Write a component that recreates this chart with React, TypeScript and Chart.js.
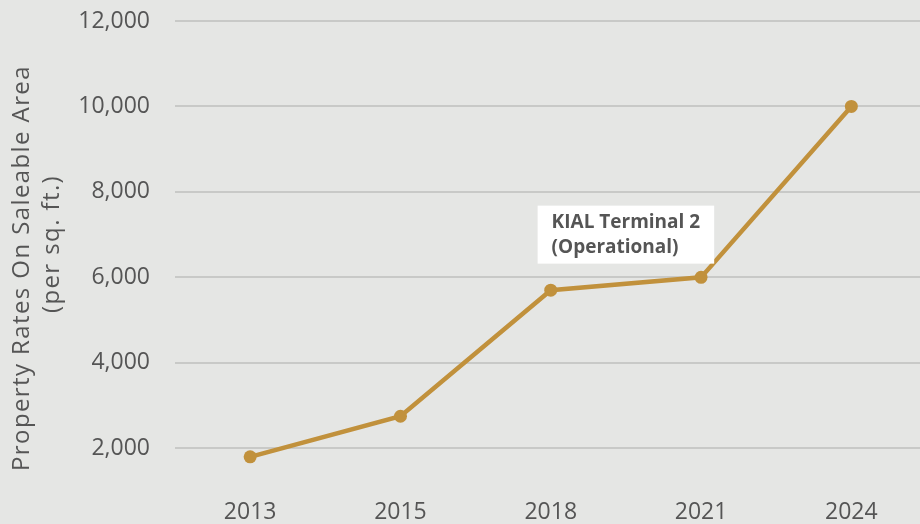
import React, { useEffect, useRef } from "react";
import { Chart, registerables } from "chart.js";

Chart.register(...registerables);

const years = ["2013", "2015", "2018", "2021", "2024"];
const rates = [1800, 2750, 5700, 6000, 10000];
const yTickValues = [2000, 4000, 6000, 8000, 10000, 12000];
const yMin = 1000;
const yMax = 12000;
const axisTitleLines = ["Property Rates On Saleable Area", "(per sq. ft.)"];
const annotationLines = ["KIAL Terminal 2", "(Operational)"];
const annotationBetween = ["2018", "2021"];
const annotationValue = 7000;

const BG = "#e5e6e4";
const GOLD = "#c1913c";
const TEXT = "#555555";
const GRID = "#c8c9c7";
const FONT = "'Open Sans', 'Noto Sans', sans-serif";

const bgPlugin = {
  id: "bgPlugin",
  beforeDraw(chart: any) {
    const ctx = chart.ctx;
    ctx.save();
    ctx.fillStyle = BG;
    ctx.fillRect(0, 0, chart.width, chart.height);
    ctx.restore();
  },
};

const yTitlePlugin = {
  id: "yTitlePlugin",
  afterDraw(chart: any) {
    const ctx = chart.ctx;
    const area = chart.chartArea;
    const cy = (area.top + area.bottom) / 2;
    ctx.save();
    ctx.fillStyle = TEXT;
    ctx.font = `24px ${FONT}`;
    try {
      (ctx as any).letterSpacing = "1.4px";
    } catch (e) {}
    ctx.textAlign = "center";
    ctx.textBaseline = "middle";
    const xs = [22, 52];
    const dy = [12, -12];
    axisTitleLines.forEach((line, i) => {
      ctx.save();
      ctx.translate(xs[i], cy + dy[i]);
      ctx.rotate(-Math.PI / 2);
      ctx.fillText(line, 0, 0);
      ctx.restore();
    });
    ctx.restore();
  },
};

const annotationPlugin = {
  id: "annotationPlugin",
  afterDatasetsDraw(chart: any) {
    const ctx = chart.ctx;
    const xs = chart.scales.x;
    const ys = chart.scales.y;
    const i0 = years.indexOf(annotationBetween[0]);
    const i1 = years.indexOf(annotationBetween[1]);
    const cx = (xs.getPixelForValue(i0) + xs.getPixelForValue(i1)) / 2;
    const cy = ys.getPixelForValue(annotationValue);
    ctx.save();
    ctx.font = `bold 19px ${FONT}`;
    const w = Math.max(...annotationLines.map((l) => ctx.measureText(l).width));
    const padX = 14;
    const lineH = 25;
    const boxW = w + padX * 2;
    const boxH = 58;
    ctx.fillStyle = "#ffffff";
    ctx.fillRect(cx - boxW / 2, cy - boxH / 2, boxW, boxH);
    ctx.fillStyle = TEXT;
    ctx.textAlign = "left";
    ctx.textBaseline = "middle";
    annotationLines.forEach((l, i) => {
      ctx.fillText(l, cx - boxW / 2 + padX, cy - lineH / 2 + i * lineH);
    });
    ctx.restore();
  },
};

export default function App() {
  const ref = useRef<HTMLCanvasElement>(null);
  useEffect(() => {
    if (!ref.current) return;
    const chart = new Chart(ref.current, {
      type: "line",
      data: {
        labels: years,
        datasets: [
          {
            data: rates,
            borderColor: GOLD,
            backgroundColor: GOLD,
            borderWidth: 4.5,
            pointRadius: 6.5,
            pointBackgroundColor: GOLD,
            pointBorderWidth: 0,
            tension: 0,
          },
        ],
      },
      options: {
        responsive: false,
        animation: false,
        layout: { padding: { top: 21, left: 0, right: 0, bottom: 0 } },
        plugins: { legend: { display: false }, tooltip: { enabled: false } },
        scales: {
          x: {
            offset: true,
            grid: { display: false, drawTicks: false },
            border: { display: false },
            ticks: {
              color: TEXT,
              font: { family: FONT, size: 23 },
              padding: 8,
            },
            afterFit(scale: any) {
              scale.height = 33;
              scale.paddingLeft = 0;
              scale.paddingRight = 0;
            },
          },
          y: {
            min: yMin,
            max: yMax,
            grid: { color: GRID, lineWidth: 2, drawTicks: false },
            border: { display: false },
            ticks: {
              color: TEXT,
              font: { family: FONT, size: 23 },
              padding: 25,
              callback: (v: any) => Number(v).toLocaleString("en-US"),
            },
            afterBuildTicks(scale: any) {
              scale.ticks = yTickValues.map((v) => ({ value: v }));
            },
            afterFit(scale: any) {
              scale.width = 175;
              scale.paddingTop = 0;
              scale.paddingBottom = 0;
            },
          },
        },
      },
      plugins: [bgPlugin, annotationPlugin, yTitlePlugin],
    });
    return () => chart.destroy();
  }, []);
  return (
    <div
      style={{
        position: "absolute",
        left: 0,
        top: 0,
        width: 920,
        height: 524,
        overflow: "hidden",
        background: BG,
      }}
    >
      <canvas ref={ref} width={933} height={524} />
    </div>
  );
}
